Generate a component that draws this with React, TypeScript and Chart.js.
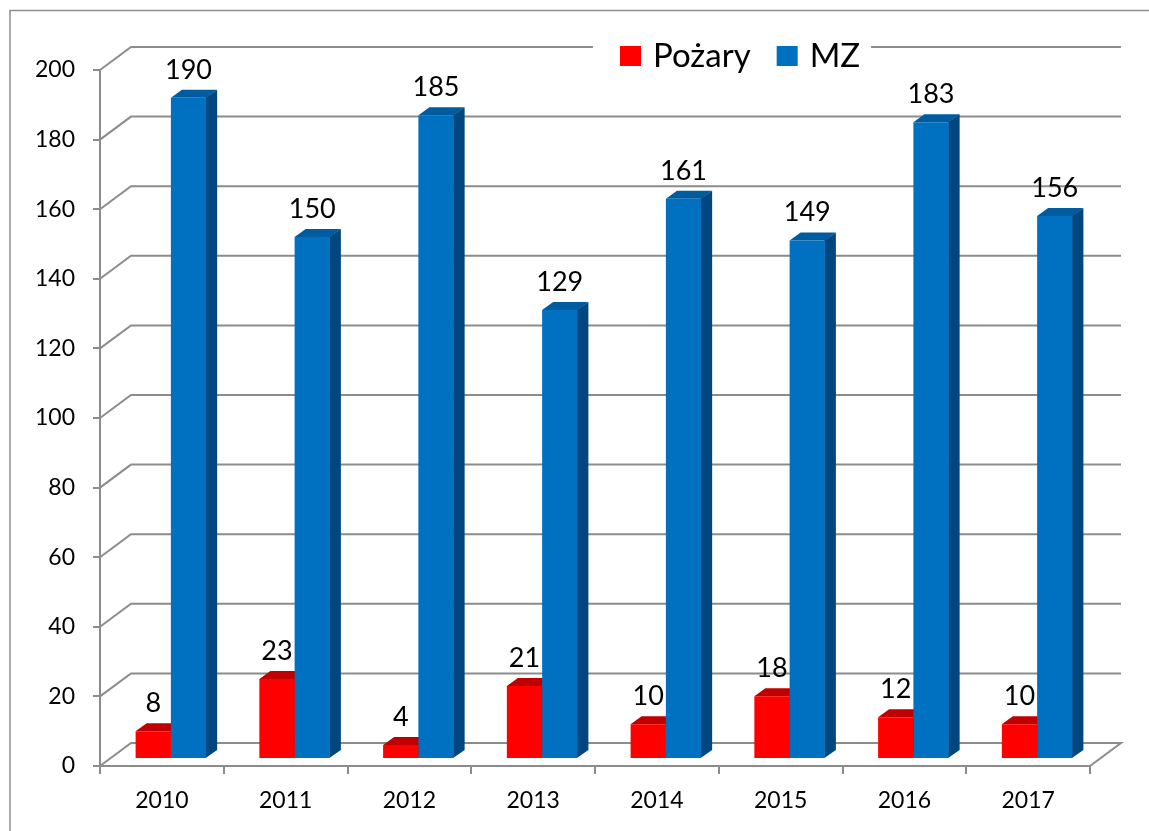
import React, { useEffect, useRef } from "react";
import { Chart, registerables } from "chart.js";

Chart.register(...registerables);

// ---- data ----
const categories = ["2010", "2011", "2012", "2013", "2014", "2015", "2016", "2017"];
const seriesNames = ["Pożary", "MZ"];
const pozaryValues = [8, 23, 4, 21, 10, 18, 12, 10];
const mzValues = [190, 150, 185, 129, 161, 149, 183, 156];
const yMin = 0;
const yMax = 200;
const yStep = 20;

// ---- style ----
const FONT = "Lato, 'Liberation Sans', sans-serif";
const FRONT = ["#FF0000", "#0070C0"];
const TOP = ["#C00000", "#005C9F"];
const SIDE = ["#A00000", "#00477F"];
const GRID = "#8C8C8C";
const WALL_DX = 31;
const WALL_DY = -23;
const BAR_SHIFT_X = 9;
const BAR_SHIFT_Y = -7;
const BAR_DEPTH_X = 11;
const BAR_DEPTH_Y = -8;

const threeDPlugin = {
  id: "threeD",
  beforeDraw(chart: any) {
    const ctx = chart.ctx;
    ctx.save();
    ctx.fillStyle = "#FFFFFF";
    ctx.fillRect(0, 0, chart.width, chart.height);
    ctx.strokeStyle = "#8E8E8E";
    ctx.lineWidth = 1.5;
    ctx.beginPath();
    ctx.moveTo(10, chart.height + 5);
    ctx.lineTo(10, 10.5);
    ctx.lineTo(chart.width + 5, 10.5);
    ctx.stroke();
    ctx.restore();
  },
  beforeDatasetsDraw(chart: any) {
    const { ctx, chartArea } = chart;
    const yScale = chart.scales.y;
    ctx.save();
    // back wall + side wall + floor
    ctx.strokeStyle = GRID;
    ctx.lineWidth = 2;
    const backRight = chartArea.right + WALL_DX;
    yScale.ticks.forEach((t: any) => {
      const py = yScale.getPixelForValue(t.value);
      ctx.beginPath();
      ctx.moveTo(chartArea.left, py);
      ctx.lineTo(chartArea.left + WALL_DX, py + WALL_DY);
      ctx.lineTo(backRight, py + WALL_DY);
      if (t.value === yMin) ctx.lineTo(chartArea.right, py);
      ctx.stroke();
    });

    // legend (white box over back wall)
    ctx.fillStyle = "#FFFFFF";
    ctx.fillRect(593, 32, 278, 46);
    ctx.font = `33px ${FONT}`;
    ctx.textBaseline = "alphabetic";
    ctx.textAlign = "left";
    let lx = 620;
    chart.data.datasets.forEach((ds: any, i: number) => {
      ctx.fillStyle = FRONT[i];
      ctx.fillRect(lx, 46, 21, 20);
      ctx.fillStyle = "#000000";
      ctx.fillText(ds.label, lx + 33, 67);
      lx += 33 + ctx.measureText(ds.label).width + 26;
    });

    // 3D faces of bars (front faces drawn by Chart.js afterwards)
    ctx.translate(BAR_SHIFT_X, BAR_SHIFT_Y);
    chart.data.datasets.forEach((_ds: any, di: number) => {
      const meta = chart.getDatasetMeta(di);
      meta.data.forEach((bar: any) => {
        const p = bar.getProps(["x", "y", "width", "base"], true);
        const l = p.x - p.width / 2;
        const r = p.x + p.width / 2;
        const top = p.y;
        const base = p.base;
        ctx.fillStyle = TOP[di];
        ctx.beginPath();
        ctx.moveTo(l, top);
        ctx.lineTo(l + BAR_DEPTH_X, top + BAR_DEPTH_Y);
        ctx.lineTo(r + BAR_DEPTH_X, top + BAR_DEPTH_Y);
        ctx.lineTo(r, top);
        ctx.closePath();
        ctx.fill();
        ctx.fillStyle = SIDE[di];
        ctx.beginPath();
        ctx.moveTo(r - 0.5, top);
        ctx.lineTo(r + BAR_DEPTH_X, top + BAR_DEPTH_Y);
        ctx.lineTo(r + BAR_DEPTH_X, base + BAR_DEPTH_Y);
        ctx.lineTo(r - 0.5, base);
        ctx.closePath();
        ctx.fill();
      });
    });
  },
  afterDatasetsDraw(chart: any) {
    const ctx = chart.ctx;
    ctx.restore();
    ctx.save();
    ctx.font = `27px ${FONT}`;
    ctx.fillStyle = "#000000";
    ctx.textAlign = "center";
    ctx.textBaseline = "alphabetic";
    chart.data.datasets.forEach((ds: any, di: number) => {
      const meta = chart.getDatasetMeta(di);
      meta.data.forEach((bar: any, i: number) => {
        const p = bar.getProps(["x", "y"], true);
        ctx.fillText(String(ds.data[i]), p.x + BAR_SHIFT_X, p.y + BAR_SHIFT_Y - 19);
      });
    });
    ctx.restore();
  },
};

export default function App() {
  const ref = useRef<HTMLCanvasElement | null>(null);

  useEffect(() => {
    if (!ref.current) return;
    const chart = new Chart(ref.current, {
      type: "bar",
      data: {
        labels: categories,
        datasets: [
          {
            label: seriesNames[0],
            data: pozaryValues,
            backgroundColor: FRONT[0],
            borderWidth: 0,
            categoryPercentage: 0.57,
            barPercentage: 1,
            clip: false as any,
          },
          {
            label: seriesNames[1],
            data: mzValues,
            backgroundColor: FRONT[1],
            borderWidth: 0,
            categoryPercentage: 0.57,
            barPercentage: 1,
            clip: false as any,
          },
        ],
      },
      options: {
        responsive: false,
        animation: false,
        devicePixelRatio: 1,
        layout: { padding: { left: 10, right: 59, top: 70, bottom: 0 } },
        plugins: {
          legend: { display: false },
          tooltip: { enabled: false },
        },
        scales: {
          x: {
            type: "category",
            offset: true,
            grid: {
              offset: true,
              drawOnChartArea: false,
              drawTicks: true,
              tickLength: 8,
              color: GRID,
              lineWidth: 2,
            },
            border: { display: true, color: GRID, width: 2 },
            ticks: {
              color: "#000000",
              font: { family: FONT, size: 23 },
              padding: 13,
              maxRotation: 0,
              autoSkip: false,
            },
            afterFit(scale: any) {
              scale.height = 65;
            },
          },
          y: {
            min: yMin,
            max: yMax,
            grid: {
              drawOnChartArea: false,
              drawTicks: true,
              tickLength: 7,
              color: GRID,
              lineWidth: 2,
            },
            border: { display: true, color: GRID, width: 2 },
            ticks: {
              stepSize: yStep,
              color: "#000000",
              font: { family: FONT, size: 23 },
              padding: 18,
            },
            afterFit(scale: any) {
              scale.width = 90;
            },
          },
        },
      },
      plugins: [threeDPlugin],
    });
    return () => chart.destroy();
  }, []);

  return (
    <div style={{ position: "absolute", left: 0, top: 0, width: 1149, height: 831, background: "#fff" }}>
      <canvas ref={ref} width={1149} height={831} style={{ display: "block" }} />
    </div>
  );
}
